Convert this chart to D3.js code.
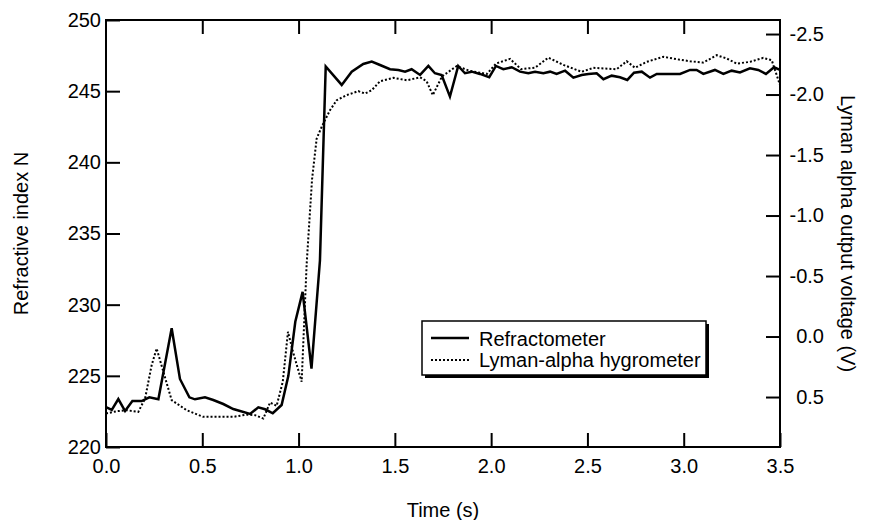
<!DOCTYPE html>
<html>
<head>
<meta charset="utf-8">
<script src="https://cdn.jsdelivr.net/npm/d3@7"></script>
<style>
    body { margin: 0; background: #fff; }
    svg { font-family: "Liberation Sans", Arial, Helvetica, sans-serif; }
    .tick text { font-family: "Liberation Sans", Arial, Helvetica, sans-serif; font-size: 20px; fill: #000; }
</style>
</head>
<body>
<div id="chart"></div>
<script>

// refractometer (solid), time in s, refractive index N
let refTime = [0.00, 0.030, 0.064, 0.099, 0.137, 0.185, 0.225, 0.272, 0.341, 0.384, 0.433, 0.462, 0.514, 0.557,
    0.609, 0.661, 0.748, 0.791, 0.826, 0.866, 0.912, 0.947, 0.983, 1.021, 1.067, 1.111, 1.141, 1.224, 1.276, 1.336,
    1.380, 1.423, 1.475, 1.518, 1.553, 1.587, 1.631, 1.674, 1.708, 1.743, 1.786, 1.829, 1.864, 1.899, 1.942, 1.990,
    2.025, 2.063, 2.107, 2.150, 2.193, 2.228, 2.271, 2.306, 2.340, 2.384, 2.427, 2.470, 2.505, 2.548, 2.583, 2.626,
    2.669, 2.707, 2.742, 2.782, 2.825, 2.860, 2.981, 3.033, 3.067, 3.102, 3.162, 3.206, 3.249, 3.292, 3.344, 3.387,
    3.427, 3.469, 3.500];
let refN = [222.8, 222.6, 223.37, 222.53, 223.23, 223.23, 223.49, 223.35, 228.34, 224.78, 223.49, 223.35, 223.49, 223.3,
    223.02, 222.67, 222.32, 222.79, 222.65, 222.37, 222.95, 225.0, 228.8, 230.9, 225.5, 233.1, 246.73, 245.44, 246.37, 246.91,
    247.08, 246.84, 246.54, 246.49, 246.37, 246.54, 246.14, 246.77, 246.26, 246.14, 244.62, 246.77, 246.26, 246.37, 246.21, 245.98,
    246.77, 246.54, 246.68, 246.37, 246.26, 246.37, 246.26, 246.37, 246.21, 246.44, 245.95, 246.14, 246.21, 246.26, 245.84, 246.09,
    245.98, 245.79, 246.30, 246.37, 245.95, 246.21, 246.21, 246.49, 246.49, 246.21, 246.49, 246.21, 246.44, 246.32, 246.60, 246.49,
    246.21, 246.68, 246.49];

// Lyman-alpha hygrometer (dotted), time in s, output voltage V
let lyTime = [0.00, 0.056, 0.107, 0.168, 0.203, 0.237, 0.263, 0.298, 0.341, 0.419, 0.505, 0.592, 0.661, 0.731, 0.774,
    0.817, 0.852, 0.886, 0.918, 0.945, 0.971, 1.016, 1.042, 1.070, 1.094, 1.120, 1.163, 1.198, 1.250, 1.310, 1.345,
    1.380, 1.423, 1.492, 1.562, 1.631, 1.665, 1.697, 1.745, 1.821, 1.890, 1.978, 2.025, 2.098, 2.155, 2.228, 2.297,
    2.375, 2.470, 2.531, 2.591, 2.652, 2.704, 2.747, 2.808, 2.894, 2.964, 3.033, 3.102, 3.171, 3.223, 3.275, 3.344,
    3.413, 3.457, 3.483, 3.500];
let lyVolt = [0.636, 0.617, 0.609, 0.622, 0.512, 0.237, 0.099, 0.292, 0.526, 0.609, 0.664, 0.664, 0.664, 0.645, 0.650,
    0.678, 0.545, 0.573, 0.374, -0.039, 0.126, 0.374, -0.60, -1.30, -1.636, -1.733, -1.87, -1.953, -1.995, -2.028, -2.008,
    -2.036, -2.11, -2.138, -2.118, -2.142, -2.11, -1.995, -2.15, -2.235, -2.195, -2.17, -2.256, -2.295, -2.21, -2.222, -2.305,
    -2.245, -2.188, -2.221, -2.215, -2.209, -2.275, -2.221, -2.270, -2.312, -2.292, -2.275, -2.264, -2.325, -2.298, -2.256, -2.270,
    -2.303, -2.284, -2.160, -2.077];

let xTicks = [0, 0.5, 1.0, 1.5, 2.0, 2.5, 3.0, 3.5];
let leftTicks = [220, 225, 230, 235, 240, 245, 250];
let rightTicks = [0.5, 0.0, -0.5, -1.0, -1.5, -2.0, -2.5];
let legendLabels = ["Refractometer", "Lyman-alpha hygrometer"];

let margin = {top: 20, right: 96, bottom: 73, left: 106};
let width = 876 - margin.left - margin.right;
let height = 520 - margin.top - margin.bottom;

let svg = d3.select("#chart").append("svg")
    .attr("width", 876)
    .attr("height", 520)
    .append("g")
    .attr("transform", "translate(" + margin.left + "," + margin.top + ")");

let x = d3.scaleLinear().domain([0, 3.5]).range([0, width]);
let yLeft = d3.scaleLinear().domain([220, 250]).range([height, 0]);
// right axis: 0.5 V sits at 397px, -2.5 V at 34px
let yRight = d3.scaleLinear().domain([0.913, -2.616]).range([height, 0]);

let fmt1 = d => d.toFixed(1);

// axes
let gx = svg.append("g")
    .attr("transform", `translate(0, ${height})`)
    .call(d3.axisBottom(x).tickValues(xTicks).tickFormat(fmt1).tickSize(-14).tickSizeOuter(0).tickPadding(12));

let gTop = svg.append("g")
    .call(d3.axisTop(x).tickValues(xTicks.slice(1, -1)).tickFormat("").tickSize(-14).tickSizeOuter(0));

let gl = svg.append("g")
    .call(d3.axisLeft(yLeft).tickValues(leftTicks).tickFormat(d3.format("d")).tickSize(-14).tickSizeOuter(0).tickPadding(5));

let gr = svg.append("g")
    .attr("transform", `translate(${width}, 0)`)
    .call(d3.axisRight(yRight).tickValues(rightTicks).tickFormat(fmt1).tickSize(-14).tickSizeOuter(0));

gr.selectAll(".tick text")
    .attr("x", 44)
    .attr("text-anchor", "end");

[gx, gTop, gl, gr].forEach(g => {
    g.select(".domain").remove();
    g.selectAll(".tick line").attr("stroke", "#000").attr("stroke-width", 2);
});

// frame
svg.append("rect")
    .attr("x", 0)
    .attr("y", 0)
    .attr("width", width)
    .attr("height", height)
    .attr("fill", "none")
    .attr("stroke", "#000")
    .attr("stroke-width", 2);

// lines
let refLine = d3.line()
    .x((d, i) => x(refTime[i]))
    .y(d => yLeft(d));

let lyLine = d3.line()
    .x((d, i) => x(lyTime[i]))
    .y(d => yRight(d));

svg.append("path")
    .datum(lyVolt)
    .attr("d", lyLine)
    .attr("fill", "none")
    .attr("stroke", "#000")
    .attr("stroke-width", 2)
    .attr("stroke-dasharray", "2,2");

svg.append("path")
    .datum(refN)
    .attr("d", refLine)
    .attr("fill", "none")
    .attr("stroke", "#000")
    .attr("stroke-width", 2.5)
    .attr("stroke-linejoin", "miter");

// axis titles
svg.append("text")
    .attr("x", width / 2)
    .attr("y", 497)
    .attr("text-anchor", "middle")
    .style("font-size", "20px")
    .text("Time (s)");

svg.append("text")
    .attr("transform", `translate(${28 - margin.left}, ${height / 2}) rotate(-90)`)
    .attr("text-anchor", "middle")
    .style("font-size", "20px")
    .text("Refractive index N");

svg.append("text")
    .attr("transform", `translate(${841 - margin.left}, ${height / 2}) rotate(90)`)
    .attr("text-anchor", "middle")
    .style("font-size", "20px")
    .text("Lyman alpha output voltage (V)");

// legend
let legend = svg.append("g")
    .attr("class", "legend")
    .attr("transform", `translate(${422 - margin.left}, ${321 - margin.top})`);

legend.append("rect")
    .attr("x", 3)
    .attr("y", 3)
    .attr("width", 284)
    .attr("height", 54)
    .attr("fill", "#000");

legend.append("rect")
    .attr("x", 0)
    .attr("y", 0)
    .attr("width", 284)
    .attr("height", 54)
    .attr("fill", "#fff")
    .attr("stroke", "#000")
    .attr("stroke-width", 1.5);

legend.append("line")
    .attr("x1", 9).attr("x2", 47)
    .attr("y1", 17).attr("y2", 17)
    .attr("stroke", "#000")
    .attr("stroke-width", 2.5);

legend.append("line")
    .attr("x1", 9).attr("x2", 47)
    .attr("y1", 39).attr("y2", 39)
    .attr("stroke", "#000")
    .attr("stroke-width", 2)
    .attr("stroke-dasharray", "2,2");

legend.selectAll("text.lbl")
    .data(legendLabels)
    .enter()
    .append("text")
    .attr("class", "lbl")
    .attr("x", 57)
    .attr("y", (d, i) => 25 + i * 21)
    .style("font-size", "20px")
    .text(d => d);

</script>
</body>
</html>
